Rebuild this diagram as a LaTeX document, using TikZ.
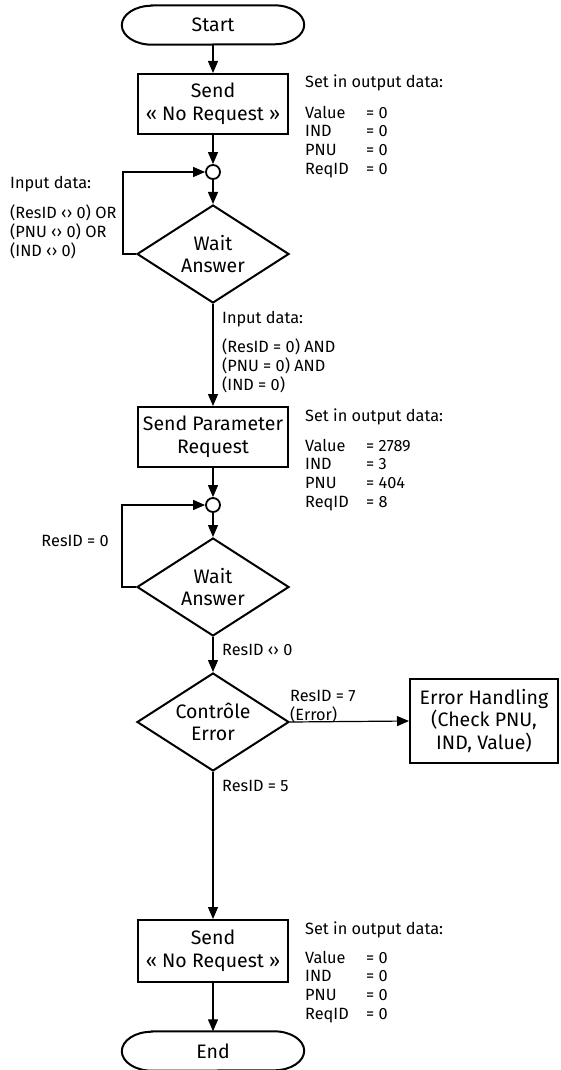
\documentclass[tikz,border=0pt]{standalone}
\usepackage{fontspec}
\setmainfont{Fira Sans}
\usetikzlibrary{arrows.meta,shapes.geometric}
\newcommand{\bigf}{\fontsize{19.5}{22.5}\selectfont}
\newcommand{\smf}{\fontsize{16.3}{18.7}\selectfont}
\newcommand{\smg}{\fontsize{16.3}{17.6}\selectfont}
\newcommand{\kv}[2]{\makebox[61pt][l]{#1}#2}
\begin{document}
\begin{tikzpicture}[x=1pt,y=-1pt,
  boxn/.style={draw,line width=2pt,minimum width=150pt,minimum height=60pt,inner sep=0pt,align=center,font=\bigf},
  dia/.style={draw,diamond,line width=2pt,minimum width=152pt,minimum height=98pt,aspect=1.55,inner sep=0pt,align=center,font=\bigf},
  term/.style={minimum width=182pt,minimum height=39pt,inner sep=0pt,font=\bigf},
  junc/.style={draw,circle,line width=1.8pt,minimum size=14pt,inner sep=0pt},
  lbl/.style={inner sep=0pt,font=\smf},
  conn/.style={line width=1.2pt},
  arr/.style={conn,-{Triangle[length=12pt,width=10pt]}},
  outl/.style={line width=2pt}]
\useasboundingbox (0,0) rectangle (560,1070);
% nodes
\node[term] (st) at (213,25) {Start};
\node[boxn] (b1) at (213,104) {Send\\« No Request »};
\node[junc] (c1) at (213,172) {};
\node[dia] (d1) at (213,254) {Wait\\Answer};
\node[boxn] (b2) at (213,437) {Send Parameter\\Request};
\node[junc] (c2) at (213,505) {};
\node[dia] (d2) at (213,587) {Wait\\Answer};
\node[dia] (d3) at (213,722) {Contrôle\\Error};
\node[boxn,minimum width=148pt,minimum height=84pt] (eh) at (484,721) {Error Handling\\(Check PNU,\\IND, Value)};
\node[boxn,minimum height=62pt] (b3) at (213,951) {Send\\« No Request »};
\node[term] (en) at (213,1051) {End};
% terminal outlines
\foreach \n in {st,en}{
  \draw[outl] ([xshift=30pt]\n.north west) -- ([xshift=-30pt]\n.north east)
    arc[start angle=90,end angle=-90,x radius=30pt,y radius=19.5pt]
    -- ([xshift=30pt]\n.south west)
    arc[start angle=270,end angle=90,x radius=30pt,y radius=19.5pt] -- cycle;
}
% labels
\node[lbl,anchor=base west] (s1) at (305,88) {Set in output data:};
\node[lbl,anchor=base west] (v1) at (305,118) {\begin{tabular}[t]{@{}l@{}}\kv{Value}{= 0}\\\kv{IND}{= 0}\\\kv{PNU}{= 0}\\\kv{ReqID}{= 0}\end{tabular}};
\node[lbl,anchor=base west] (s2) at (305,421) {Set in output data:};
\node[lbl,anchor=base west] (v2) at (305,451) {\begin{tabular}[t]{@{}l@{}}\kv{Value}{= 2789}\\\kv{IND}{= 3}\\\kv{PNU}{= 404}\\\kv{ReqID}{= 8}\end{tabular}};
\node[lbl,anchor=base west] (s3) at (305,934) {Set in output data:};
\node[lbl,anchor=base west] (v3) at (305,963) {\begin{tabular}[t]{@{}l@{}}\kv{Value}{= 0}\\\kv{IND}{= 0}\\\kv{PNU}{= 0}\\\kv{ReqID}{= 0}\end{tabular}};
\node[lbl,anchor=base west] (i1) at (10,188) {Input data:};
\node[lbl,anchor=base west,font=\smg] (i1c) at (10,218) {\begin{tabular}[t]{@{}l@{}}(ResID ‹› 0) OR\\(PNU ‹› 0) OR\\(IND ‹› 0)\end{tabular}};
\node[lbl,anchor=base west] (i2) at (222,323) {Input data:};
\node[lbl,anchor=base west] (i2c) at (222,352) {\begin{tabular}[t]{@{}l@{}}(ResID = 0) AND\\(PNU = 0) AND\\(IND = 0)\end{tabular}};
\node[lbl,anchor=base east] (r0) at (109,546) {ResID = 0};
\node[lbl,anchor=base west] (rn) at (222,655) {ResID ‹› 0};
\node[lbl,anchor=base west,font=\smg] (r7) at (290,701) {\begin{tabular}[t]{@{}l@{}}ResID = 7\\(Error)\end{tabular}};
\node[lbl,anchor=base west] (r5) at (222,791) {ResID = 5};
% connectors
\draw[arr] (st) -- (b1);
\draw[arr] (b1) -- (c1);
\draw[arr] (c1) -- (d1);
\draw[arr] (d1.west) -- ++(-13pt,0) |- (c1.west);
\draw[arr] (d1) -- (b2);
\draw[arr] (b2) -- (c2);
\draw[arr] (c2) -- (d2);
\draw[arr] (d2.west) -- ++(-14pt,0) |- (c2.west);
\draw[arr] (d2) -- (d3);
\draw[arr] (d3.east) -- (eh.west);
\draw[arr] (d3) -- (b3);
\draw[arr] (b3) -- (en);
\end{tikzpicture}
\end{document}
